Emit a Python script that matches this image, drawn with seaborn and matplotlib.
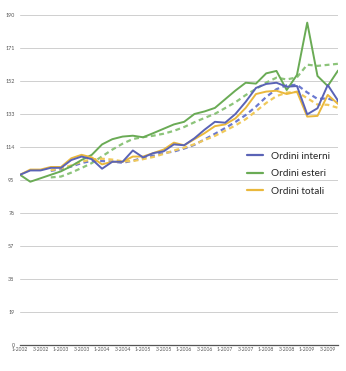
import matplotlib
matplotlib.use("Agg")
import matplotlib.pyplot as plt
import seaborn as sns
import numpy as np
import pandas as pd
from matplotlib.lines import Line2D

# ---- data ----
quarters = [f"{q}-{y}" for y in range(2002, 2010) for q in (1, 2, 3, 4)]
tick_labels = ["1-2002", "3-2002", "1-2003", "3-2003", "1-2004", "3-2004", "1-2005", "3-2005",
               "1-2006", "3-2006", "1-2007", "3-2007", "1-2008", "3-2008", "1-2009", "3-2009"]
y_ticks = [0, 19, 38, 57, 76, 95, 114, 133, 152, 171, 190]

interni = [98, 100.5, 100.5, 102, 102, 106.5, 108.5, 107, 101.5, 105.5, 105.5, 112,
           108, 110.5, 111.5, 115.5, 115, 119, 124, 128.5, 128, 133, 140, 148,
           150.3, 151, 148.7, 149.1, 132.8, 136.3, 149.7, 140.7]
esteri = [98, 94, 96, 98, 100, 103, 106.5, 109.5, 115.5, 118.5, 120, 120.5,
          119.6, 122, 124.5, 127, 128.5, 133, 134.5, 136.5, 141.5, 146.5, 151, 150.5,
          156.4, 157.8, 146.8, 155.5, 185.6, 154.9, 149.1, 158]
totali = [98, 101, 101, 102.5, 102.5, 107.5, 109.5, 108, 104, 105.5, 105.5, 108.5,
          108.5, 110.5, 112.5, 116.5, 115, 118.5, 122, 126, 127, 130.5, 136.5, 144.5,
          145.9, 146.4, 144.5, 145.9, 131.5, 131.9, 144, 138.8]

nan = np.nan
interni_trend = [nan, nan, nan, 100.25, 101.25, 102.75, 104.75, 106, 105.9, 105.6, 104.9, 106.1,
                 107.75, 109, 110.5, 111.4, 113.1, 115.25, 118.4, 121.6, 124.9, 128.4, 132.4, 137.25,
                 142.8, 147.3, 149.5, 149.8, 145.4, 141.7, 142, 139.9]
esteri_trend = [nan, nan, nan, 96.5, 97, 99.25, 101.9, 104.75, 108.6, 112.5, 115.9, 118.6,
                119.65, 120.5, 121.65, 123.3, 125.5, 128.25, 130.75, 133.1, 136.4, 139.75, 143.9, 147.4,
                151.1, 153.9, 152.9, 154.1, 161.4, 160.7, 161.3, 161.9]
totali_trend = [nan, nan, nan, 100.6, 101.75, 103.4, 105.5, 106.9, 107.25, 106.75, 105.75, 105.9,
                107, 108.25, 110, 112, 113.6, 115.6, 118, 120.4, 123.4, 126.4, 130, 134.6,
                139.35, 143.3, 145.3, 145.7, 142.1, 138.45, 138.3, 136.55]

series_names = ["Ordini interni", "Ordini esteri", "Ordini totali"]
colors = {"Ordini interni": "#5a63b6", "Ordini esteri": "#6aab55", "Ordini totali": "#eab83c"}
trend_colors = {"Ordini interni": "#6b79d0", "Ordini esteri": "#8cc47a", "Ordini totali": "#f0c95a"}

pos = np.arange(len(quarters))
df = pd.DataFrame({"pos": pos, "Ordini interni": interni, "Ordini esteri": esteri,
                   "Ordini totali": totali})
dft = pd.DataFrame({"pos": pos, "Ordini interni": interni_trend, "Ordini esteri": esteri_trend,
                    "Ordini totali": totali_trend})

sns.set_style("white")
plt.rcParams["font.family"] = ["Lato", "DejaVu Sans"]

fig = plt.figure(figsize=(3.46, 3.71), dpi=100)
ax = fig.add_axes([20 / 346, 26 / 371, 318 / 346, 330 / 371])

# trend (dashed) lines first
for name in ["Ordini esteri", "Ordini interni", "Ordini totali"]:
    sns.lineplot(data=dft, x="pos", y=name, ax=ax, color=trend_colors[name],
                 linewidth=1.6, dashes=False, legend=False)
    ax.lines[-1].set_linestyle((0, (2.2, 1.6)))

for name in ["Ordini esteri", "Ordini totali", "Ordini interni"]:
    sns.lineplot(data=df, x="pos", y=name, ax=ax, color=colors[name],
                 linewidth=1.4, legend=False)

ax.set_xlim(0, len(quarters) - 1)
ax.set_ylim(0, 190)
ax.set_yticks(y_ticks)
ax.set_yticklabels([str(v) for v in y_ticks], fontsize=3.9, color="#555555")
ax.set_xticks(pos[::2])
ax.set_xticklabels(tick_labels, fontsize=3.6, color="#555555")
ax.tick_params(axis="x", length=0, pad=1.5)
ax.tick_params(axis="y", length=0, pad=4)
ax.set_xlabel("")
ax.set_ylabel("")
ax.grid(axis="y", color="#cfcfcf", linewidth=0.7)
ax.set_axisbelow(True)
for s in ["top", "right", "left"]:
    ax.spines[s].set_visible(False)
ax.spines["bottom"].set_color("#555555")
ax.spines["bottom"].set_linewidth(0.9)

handles = [Line2D([0], [0], color=colors[n], linewidth=1.6) for n in series_names]
ax.legend(handles, series_names, loc="upper left", bbox_to_anchor=(0.715, 0.585),
          frameon=False, fontsize=7.2, handlelength=1.6, handletextpad=0.8,
          labelspacing=0.85, borderpad=0, borderaxespad=0)

fig.savefig("out.png", dpi=100)
